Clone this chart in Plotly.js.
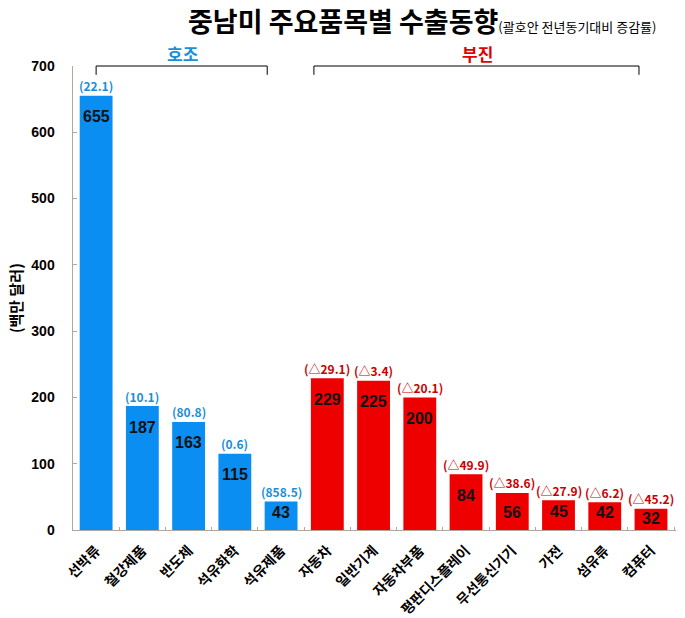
<!DOCTYPE html>
<html><head><meta charset="utf-8">
<script src="https://cdn.plot.ly/plotly-3.0.1.min.js"></script>
<style>html,body{margin:0;padding:0;background:#fff}</style>
</head><body>
<div id="chart" style="width:685px;height:618px"></div>
<script>
const categories = ['선박류','철강제품','반도체','석유화학','석유제품','자동차','일반기계','자동차부품','평판디스플레이','무선통신기기','가전','섬유류','컴퓨터'];
const values = [655,187,163,115,43,229,225,200,84,56,45,42,32];
const changes = ['(22.1)','(10.1)','(80.8)','(0.6)','(858.5)','(△29.1)','(△3.4)','(△20.1)','(△49.9)','(△38.6)','(△27.9)','(△6.2)','(△45.2)'];
const groups = ['호조','호조','호조','호조','호조','부진','부진','부진','부진','부진','부진','부진','부진'];
const yTicks = [0,100,200,300,400,500,600,700];

const barBlue = '#0a8ef2', barRed = '#ee0000';
const labBlue = '#1a8fd8', labRed = '#c80000';
const colors = groups.map(g => g === '호조' ? barBlue : barRed);
const KR = '"Noto Sans CJK KR", "Liberation Sans", sans-serif';
const NUM = '"Liberation Sans", Arial, sans-serif';

const plotH = 618 - 66 - 88, yMax = 700;
const annotations = [];
categories.forEach((c, i) => {
  const barPx = values[i] / yMax * plotH;
  const inset = Math.min(21, Math.max(10, barPx - 18));
  annotations.push({x: c, y: values[i], xref: 'x', yref: 'y', text: '<b>' + values[i] + '</b>',
    showarrow: false, yanchor: 'middle', yshift: -inset, font: {family: NUM, size: 16, color: '#111'}});
  annotations.push({x: c, y: values[i], xref: 'x', yref: 'y', text: '<b>' + changes[i] + '</b>',
    showarrow: false, yanchor: 'middle', yshift: 10,
    font: {family: KR, size: 12, color: groups[i] === '호조' ? labBlue : labRed}});
});
annotations.push({x: 1.86, y: 1.028, xref: 'x', yref: 'paper', text: '<b>호조</b>', showarrow: false,
  xanchor: 'center', yanchor: 'middle', font: {family: KR, size: 17, color: labBlue}});
annotations.push({x: 8.24, y: 1.028, xref: 'x', yref: 'paper', text: '<b>부진</b>', showarrow: false,
  xanchor: 'center', yanchor: 'middle', font: {family: KR, size: 17, color: '#e00000'}});
annotations.push({x: -0.096, y: 0.5, xref: 'paper', yref: 'paper', text: '<b>(백만 달러)</b>', showarrow: false,
  xanchor: 'center', yanchor: 'middle', textangle: -90, font: {family: KR, size: 15, color: '#000'}});
annotations.push({x: 0.579, y: 1.099, xref: 'paper', yref: 'paper', xanchor: 'center', yanchor: 'middle',
  text: '<b>중남미 주요품목별 수출동향</b><span style="font-size:13px">(괄호안 전년동기대비 증감률)</span>',
  showarrow: false, font: {family: KR, size: 27, color: '#000'}});

const bracket = (x0, x1) => {
  const yTop = 1.0, yBot = 0.981;
  return [
    {type: 'line', xref: 'x', yref: 'paper', x0: x0, x1: x1, y0: yTop, y1: yTop, line: {color: '#000', width: 1}},
    {type: 'line', xref: 'x', yref: 'paper', x0: x0, x1: x0, y0: yTop, y1: yBot, line: {color: '#000', width: 1}},
    {type: 'line', xref: 'x', yref: 'paper', x0: x1, x1: x1, y0: yTop, y1: yBot, line: {color: '#000', width: 1}}
  ];
};
const shapes = [...bracket(0.0, 3.7), ...bracket(4.71, 11.74)];

Plotly.newPlot('chart', [{
  type: 'bar', x: categories, y: values, marker: {color: colors}, hoverinfo: 'none'
}], {
  width: 685, height: 618,
  margin: {l: 73, r: 9, t: 66, b: 88},
  paper_bgcolor: '#fff', plot_bgcolor: '#fff',
  bargap: 0.29,
  showlegend: false,
  xaxis: {
    type: 'category', tickangle: -45, tickfont: {family: KR, size: 14, color: '#000', weight: 'bold'},
    showline: true, linecolor: '#b0a89e', linewidth: 1, ticks: 'inside', tickson: 'boundaries',
    ticklen: 3, tickcolor: '#b0a89e', showgrid: false, automargin: false, ticklabelstandoff: 6
  },
  yaxis: {
    range: [0, yMax], tickvals: yTicks, ticktext: yTicks.map(String),
    tickfont: {family: NUM, size: 14, color: '#000', weight: 'bold'},
    showline: true, linecolor: '#b0a89e', linewidth: 1.5, ticks: 'inside', ticklen: 4, tickcolor: '#b0a89e',
    showgrid: false, zeroline: false, ticklabelstandoff: 14, automargin: false
  },
  annotations: annotations,
  shapes: shapes
}, {displayModeBar: false, staticPlot: true});
</script>
</body></html>
